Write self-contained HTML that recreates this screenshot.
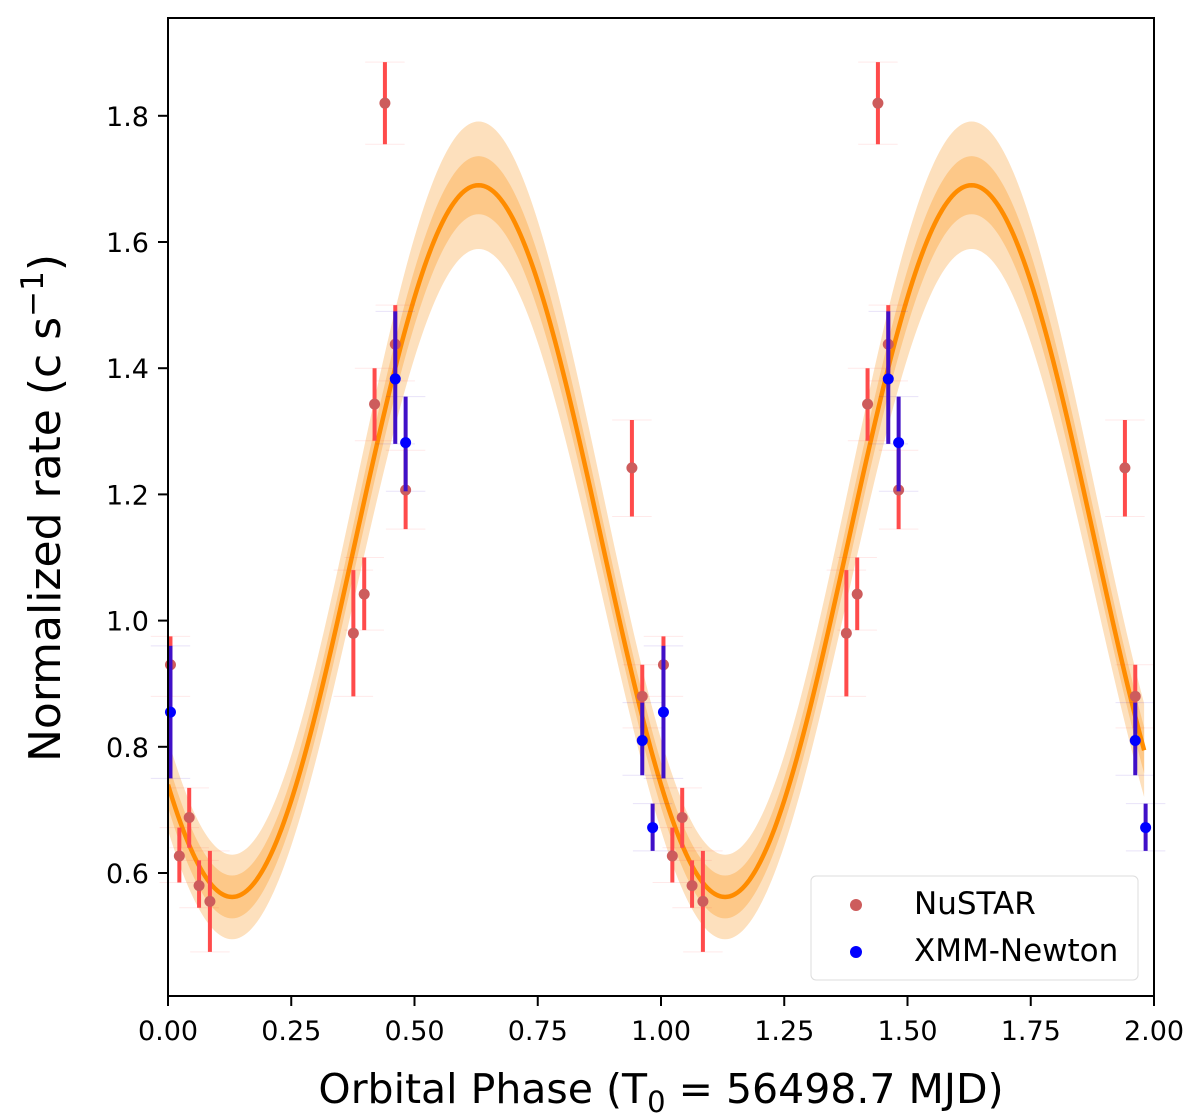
<!DOCTYPE html>
<html><head><meta charset="utf-8"><style>
html,body{margin:0;padding:0;background:#fff;}
svg{display:block;font-family:"DejaVu Sans","Liberation Sans",sans-serif;}
</style></head><body>
<svg id="chart" width="1200" height="1119" viewBox="0 0 1200 1119" xmlns="http://www.w3.org/2000/svg">
<defs><clipPath id="clip"><rect x="168" y="18" width="986" height="978"/></clipPath></defs>
<g id="bands" clip-path="url(#clip)"></g>
<g id="marks"></g>
<rect x="168" y="18" width="986" height="978" fill="none" stroke="#000" stroke-width="2"/>
<g id="axes"></g>
<text x="661" y="1103" font-size="41" text-anchor="middle">Orbital Phase (T<tspan font-size="29" dy="9">0</tspan><tspan dy="-9"> = 56498.7 MJD)</tspan></text>
<text transform="translate(60,508) rotate(-90)" font-size="44" text-anchor="middle">Normalized rate (c s<tspan font-size="31" dy="-17">−1</tspan><tspan dy="17">)</tspan></text>
<g>
<rect x="811" y="876" width="327" height="104" rx="5" fill="#fff" fill-opacity="0.8" stroke="#ddd" stroke-width="1"/>
<circle cx="856" cy="905" r="6" fill="#cd5c5c"/>
<text x="914" y="914" font-size="31">NuSTAR</text>
<circle cx="856" cy="952" r="6" fill="#0000ff"/>
<text x="914" y="961" font-size="31">XMM-Newton</text>
</g>
</svg>
<script>
const nuPhase=[0.005,0.023,0.043,0.063,0.085,0.376,0.398,0.419,0.44,0.461,0.482,0.941,0.962];
const nuRate=[0.93,0.627,0.688,0.58,0.555,0.98,1.042,1.343,1.82,1.438,1.207,1.242,0.88];
const nuLo=[0.88,0.585,0.64,0.545,0.475,0.88,0.985,1.285,1.755,1.38,1.145,1.165,0.83];
const nuHi=[0.975,0.672,0.735,0.62,0.635,1.08,1.10,1.40,1.885,1.50,1.27,1.318,0.93];
const xmPhase=[0.005,0.461,0.482,0.962,0.983];
const xmRate=[0.855,1.383,1.282,0.81,0.672];
const xmLo=[0.75,1.28,1.205,0.755,0.635];
const xmHi=[0.96,1.49,1.355,0.87,0.71];
const modelMean=[1.126];
const modelAmp=[0.564];
const modelPeakPhase=[0.63];
const bandOuter=[0.084,0.017];
const bandInner=[0.04,0.006];
const xTicks=[0,0.25,0.5,0.75,1,1.25,1.5,1.75,2];
const yTicks=[0.6,0.8,1.0,1.2,1.4,1.6,1.8];

const NS="http://www.w3.org/2000/svg";
const X=v=>168+v*493;
const Y=v=>873-(v-0.6)*631;
function el(t,a,p){const e=document.createElementNS(NS,t);for(const k in a)e.setAttribute(k,a[k]);p.appendChild(e);return e;}
const axes=document.getElementById('axes');
xTicks.forEach(t=>{
  const l=el('line',{x1:X(t),x2:X(t),y1:996,y2:1006,stroke:'#000','stroke-width':2},axes);
  
  
  const tx=el('text',{x:X(t),y:1040,'font-size':27,'text-anchor':'middle'},axes);tx.textContent=t.toFixed(2);
  
  
});
yTicks.forEach(t=>{
  const l=el('line',{x1:158,x2:168,y1:Y(t),y2:Y(t),stroke:'#000','stroke-width':2},axes);
  
  
  const tx=el('text',{x:149,y:Y(t)+10,'font-size':27,'text-anchor':'end'},axes);tx.textContent=t.toFixed(1);
  
  
});
const bands=document.getElementById('bands');
const cosv=p=>Math.cos(2*Math.PI*(p-modelPeakPhase[0]));
const f=p=>modelMean[0]+modelAmp[0]*cosv(p);
function band(b,col,name){
  const up=[],dn=[];
  for(let p=0;p<=1.98;p+=0.005){const c=cosv(p);const s=b[0]+b[1]*c;up.push(X(p)+','+Y(f(p)+s));dn.push(X(p)+','+Y(f(p)-s));}
  const e=el('polygon',{points:up.concat(dn.reverse()).join(' '),fill:col},bands);
  
  
}
band(bandOuter,'#fde0bd','model-2sigma-band');
band(bandInner,'#fdc888','model-1sigma-band');
const pts=[];for(let p=0;p<=1.98;p+=0.005)pts.push(X(p)+','+Y(f(p)));
const ml=el('polyline',{points:pts.join(' '),fill:'none',stroke:'#ff8c00','stroke-width':4.5},bands);


const marks=document.getElementById('marks');
function series(ph,r,lo,hi,barCol,dotCol,name){
  ph.forEach((p,i)=>{[p,p+1].forEach(q=>{
    if(q>2)return;
    const g=el('g',{},marks);
    
    
    el('line',{x1:X(q-0.04),x2:X(q+0.04),y1:Y(lo[i]),y2:Y(lo[i]),stroke:barCol,'stroke-opacity':0.12,'stroke-width':1},g);
    el('line',{x1:X(q-0.04),x2:X(q+0.04),y1:Y(hi[i]),y2:Y(hi[i]),stroke:barCol,'stroke-opacity':0.12,'stroke-width':1},g);
    el('line',{x1:X(q),x2:X(q),y1:Y(lo[i]),y2:Y(hi[i]),stroke:barCol,'stroke-width':4},g);
    el('circle',{cx:X(q),cy:Y(r[i]),r:5.5,fill:dotCol},g);
  });});
}
series(nuPhase,nuRate,nuLo,nuHi,'#ff4b4b','#cd5c5c','nustar');
series(xmPhase,xmRate,xmLo,xmHi,'#4010c8','#0000ff','xmm');
</script>
</body></html>
